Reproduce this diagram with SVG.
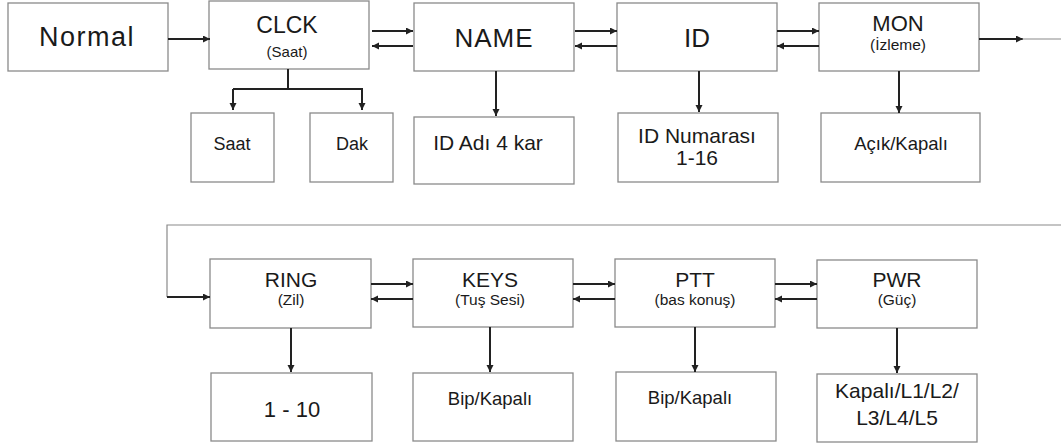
<svg xmlns="http://www.w3.org/2000/svg" width="1061" height="443" viewBox="0 0 1061 443">
<defs>
<style>
.box{fill:#fff;stroke:#8a8a8a;stroke-width:1.3}
.t{font-family:"Liberation Sans",Arial,sans-serif;fill:#1a1a1a;text-anchor:middle}
.a{stroke:#222;stroke-width:2;fill:none}
.thin{stroke:#8a8a8a;stroke-width:1.2;fill:none}
</style>
<marker id="ah" markerWidth="8" markerHeight="8" refX="7" refY="3.5" orient="auto" markerUnits="userSpaceOnUse">
<path d="M0,0 L7,3.5 L0,7 Z" fill="#222"/>
</marker>
</defs>
<rect width="1061" height="443" fill="#fff"/>

<g id="normal"><rect class="box" x="8" y="3" width="160" height="68"/><text class="t" x="87" y="46" font-size="27" letter-spacing="1.5">Normal</text></g>
<g id="clck"><rect class="box" x="209" y="1" width="160" height="68"/><text class="t" x="287" y="33" font-size="23">CLCK</text><text class="t" x="287" y="57" font-size="15">(Saat)</text></g>
<g id="saat"><rect class="box" x="191" y="113" width="83" height="69"/><text class="t" x="232" y="150" font-size="18">Saat</text></g>
<g id="dak"><rect class="box" x="310" y="113" width="83" height="69"/><text class="t" x="352" y="150" font-size="18">Dak</text></g>
<g id="name"><rect class="box" x="414" y="3" width="160" height="68"/><text class="t" x="494" y="47" font-size="26" letter-spacing="1">NAME</text></g>
<g id="name-sub"><rect class="box" x="414" y="117" width="160" height="67"/><text class="t" x="488" y="150" font-size="21">ID Adı 4 kar</text></g>
<g id="id"><rect class="box" x="617" y="3" width="160" height="68"/><text class="t" x="697" y="47" font-size="26">ID</text></g>
<g id="id-sub"><rect class="box" x="618" y="113" width="160" height="69"/><text class="t" x="697" y="143" font-size="21">ID Numarası</text><text class="t" x="697" y="165" font-size="21">1-16</text></g>
<g id="mon"><rect class="box" x="819" y="3" width="160" height="68"/><text class="t" x="898" y="31" font-size="22">MON</text><text class="t" x="898" y="50" font-size="15.5">(İzleme)</text></g>
<g id="mon-sub"><rect class="box" x="821" y="113" width="159" height="69"/><text class="t" x="901" y="150" font-size="18.5">Açık/Kapalı</text></g>

<g id="ring"><rect class="box" x="210" y="259" width="161" height="69"/><text class="t" x="291" y="287" font-size="21">RING</text><text class="t" x="291" y="305" font-size="15.5">(Zil)</text></g>
<g id="ring-sub"><rect class="box" x="211" y="373" width="161" height="68"/><text class="t" x="292" y="417" font-size="22">1 - 10</text></g>
<g id="keys"><rect class="box" x="413" y="259" width="160" height="68"/><text class="t" x="490" y="287" font-size="21">KEYS</text><text class="t" x="490" y="305" font-size="15.5">(Tuş Sesi)</text></g>
<g id="keys-sub"><rect class="box" x="413" y="373" width="160" height="68"/><text class="t" x="490" y="405" font-size="18.5">Bip/Kapalı</text></g>
<g id="ptt"><rect class="box" x="615" y="259" width="160" height="68"/><text class="t" x="695" y="287" font-size="21">PTT</text><text class="t" x="695" y="305" font-size="15.5">(bas konuş)</text></g>
<g id="ptt-sub"><rect class="box" x="616" y="372" width="160" height="69"/><text class="t" x="690" y="404" font-size="18.5">Bip/Kapalı</text></g>
<g id="pwr"><rect class="box" x="817" y="260" width="160" height="68"/><text class="t" x="897" y="287" font-size="21">PWR</text><text class="t" x="897" y="305" font-size="15.5">(Güç)</text></g>
<g id="pwr-sub"><rect class="box" x="817" y="374" width="160" height="68"/><text class="t" x="897" y="398" font-size="21">Kapalı/L1/L2/</text><text class="t" x="897" y="425" font-size="21">L3/L4/L5</text></g>

<g id="connectors">
<line class="a" x1="168" y1="39" x2="210" y2="39" marker-end="url(#ah)"/>
<line class="a" x1="372" y1="31" x2="413" y2="31" marker-end="url(#ah)"/>
<line class="a" x1="413" y1="46" x2="372" y2="46" marker-end="url(#ah)"/>
<line class="a" x1="575" y1="31" x2="617" y2="31" marker-end="url(#ah)"/>
<line class="a" x1="617" y1="46" x2="575" y2="46" marker-end="url(#ah)"/>
<line class="a" x1="777" y1="31" x2="819" y2="31" marker-end="url(#ah)"/>
<line class="a" x1="819" y1="46" x2="777" y2="46" marker-end="url(#ah)"/>
<line class="a" x1="979" y1="39" x2="1023" y2="39" marker-end="url(#ah)"/>
<line class="thin" x1="1022" y1="39" x2="1061" y2="39"/>
<polyline class="a" points="288,69 288,89"/>
<polyline class="a" points="233,89 362,89 362,110" marker-end="url(#ah)"/>
<line class="a" x1="233" y1="89" x2="233" y2="110" marker-end="url(#ah)"/>
<line class="a" x1="496" y1="71" x2="496" y2="116" marker-end="url(#ah)"/>
<line class="a" x1="699" y1="71" x2="699" y2="112" marker-end="url(#ah)"/>
<line class="a" x1="899" y1="71" x2="899" y2="113" marker-end="url(#ah)"/>
<polyline class="thin" points="1061,225 167,225 167,297"/>
<line class="a" x1="167" y1="297" x2="210" y2="297" marker-end="url(#ah)"/>
<line class="a" x1="371" y1="284" x2="413" y2="284" marker-end="url(#ah)"/>
<line class="a" x1="413" y1="299" x2="371" y2="299" marker-end="url(#ah)"/>
<line class="a" x1="573" y1="284" x2="615" y2="284" marker-end="url(#ah)"/>
<line class="a" x1="615" y1="299" x2="573" y2="299" marker-end="url(#ah)"/>
<line class="a" x1="775" y1="284" x2="817" y2="284" marker-end="url(#ah)"/>
<line class="a" x1="817" y1="299" x2="775" y2="299" marker-end="url(#ah)"/>
<line class="a" x1="291" y1="328" x2="291" y2="372" marker-end="url(#ah)"/>
<line class="a" x1="490" y1="327" x2="490" y2="372" marker-end="url(#ah)"/>
<line class="a" x1="695" y1="327" x2="695" y2="372" marker-end="url(#ah)"/>
<line class="a" x1="897" y1="328" x2="897" y2="373" marker-end="url(#ah)"/>
</g>
</svg>
